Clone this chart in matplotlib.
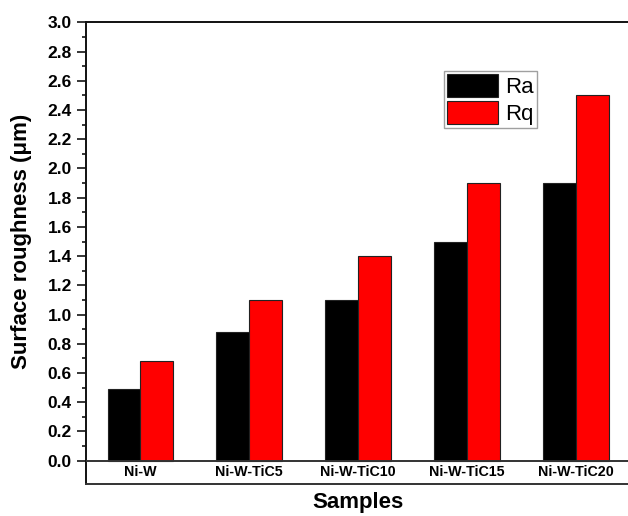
import numpy as np
import matplotlib
matplotlib.use("Agg")
import matplotlib.pyplot as plt
import matplotlib.ticker as tkr

samples = ["Ni-W", "Ni-W-TiC5", "Ni-W-TiC10", "Ni-W-TiC15", "Ni-W-TiC20"]
ra = [0.49, 0.88, 1.10, 1.50, 1.90]
rq = [0.68, 1.10, 1.40, 1.90, 2.50]

plt.rcParams["font.family"] = ["Liberation Sans", "DejaVu Sans"]

fig = plt.figure(figsize=(6.28, 5.16), dpi=100)
ax = fig.add_axes([0.1365, 0.0614, 0.8675, 0.8954])

x = np.arange(len(samples))
w = 0.30
ax.bar(x - w / 2, ra, w, color="black", edgecolor="#222222", linewidth=0.8, label="Ra", zorder=2)
ax.bar(x + w / 2, rq, w, color="#ff0000", edgecolor="#222222", linewidth=0.8, label="Rq", zorder=2)

ax.set_xlim(-0.5, 4.5)
ax.set_ylim(-0.1615, 3.0)

# baseline at zero; category names sit in the strip below it
ax.axhline(0, color="#333333", linewidth=1.4, zorder=3)
for xi, name in zip(x, samples):
    ax.text(xi, -0.08, name, ha="center", va="center", fontsize=10.3, fontweight="bold")

ax.set_xticks([])
ax.yaxis.set_major_locator(tkr.FixedLocator(np.arange(0, 3.01, 0.2)))
ax.yaxis.set_minor_locator(tkr.FixedLocator(np.arange(0.1, 3.0, 0.2)))
ax.yaxis.set_major_formatter(tkr.FuncFormatter(lambda v, _: "%0.1f" % v))
ax.tick_params(axis="y", which="major", direction="out", length=6.5, width=1.1, pad=3.5,
               labelsize=12.5)
ax.tick_params(axis="y", which="minor", direction="out", length=3.2, width=1.1)
for lab in ax.get_yticklabels():
    lab.set_fontweight("bold")

ax.spines["right"].set_visible(False)
for s in ["left", "top", "bottom"]:
    ax.spines[s].set_linewidth(1.4)
    ax.spines[s].set_color("#111111")
ax.spines["bottom"].set_color("#333333")

ax.set_ylabel("Surface roughness (\u03bcm)", fontsize=16, fontweight="bold")
ax.yaxis.set_label_coords(-0.0986, 0.5255)
ax.set_xlabel("Samples", fontsize=16, fontweight="bold", labelpad=5.5)

ax.legend(loc="upper left", bbox_to_anchor=(0.707, 0.862), bbox_transform=fig.transFigure,
          borderaxespad=0, fontsize=16, frameon=True, fancybox=False, edgecolor="#888888",
          handlelength=2.3, handleheight=1.18, labelspacing=0.14, borderpad=0.14,
          handletextpad=0.3)

fig.savefig("out.png", dpi=100)
